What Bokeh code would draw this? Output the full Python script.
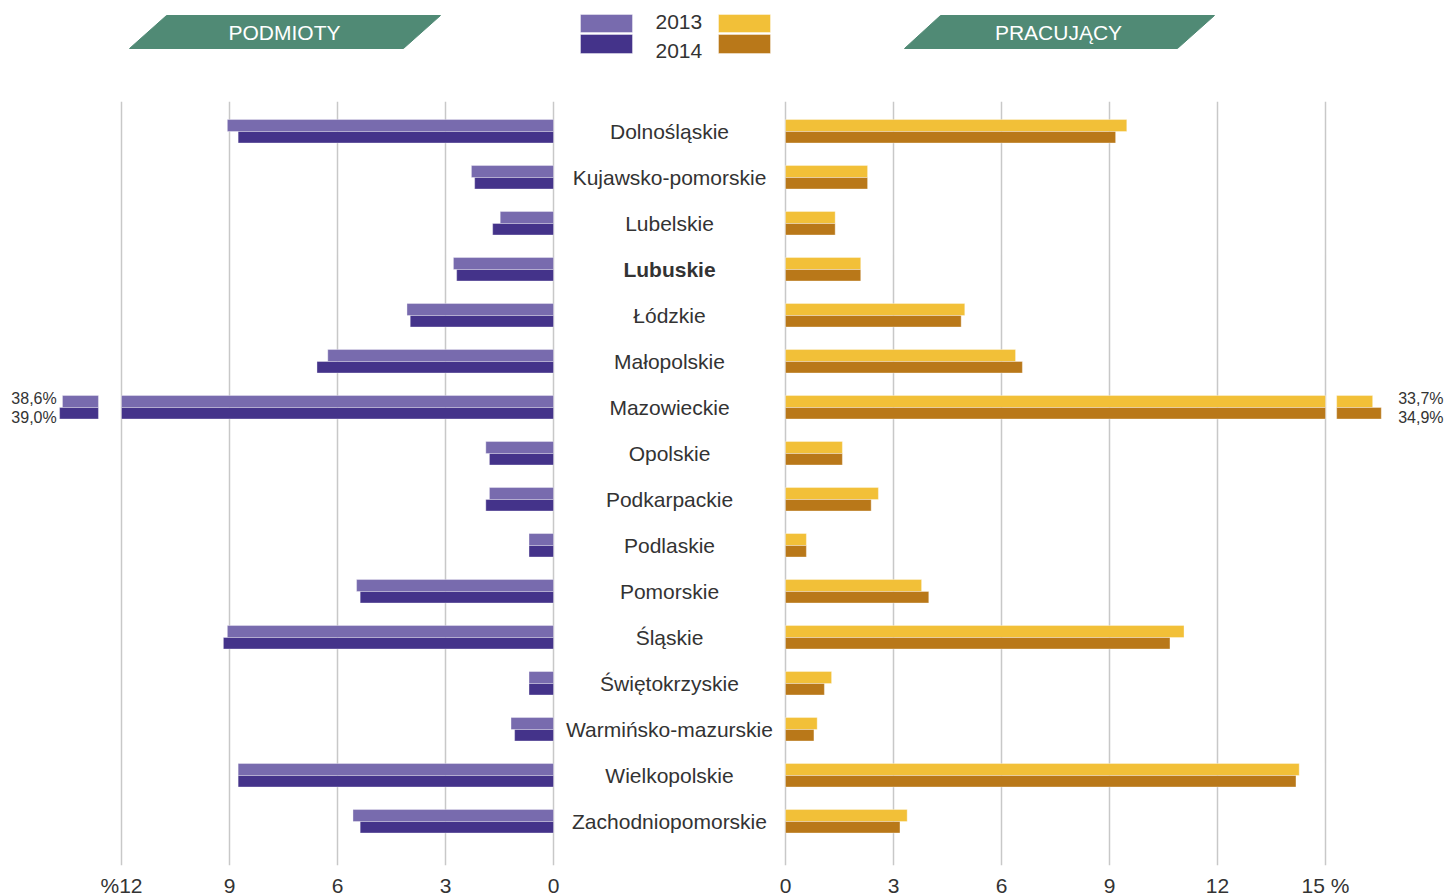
from bokeh.plotting import figure
from bokeh.layouts import column
from bokeh.models import Range1d, LinearAxis, FixedTicker, CustomJSTickFormatter, ColumnDataSource, Grid
from bokeh.core.properties import value
from bokeh.embed import file_html
from bokeh.resources import INLINE

# ---------------- data ----------------
regions = ["Dolnośląskie", "Kujawsko-pomorskie", "Lubelskie", "Lubuskie", "Łódzkie",
           "Małopolskie", "Mazowieckie", "Opolskie", "Podkarpackie", "Podlaskie",
           "Pomorskie", "Śląskie", "Świętokrzyskie", "Warmińsko-mazurskie",
           "Wielkopolskie", "Zachodniopomorskie"]
highlighted = "Lubuskie"

podmioty_2013 = [9.06, 2.28, 1.48, 2.78, 4.07, 6.27, 38.6, 1.88, 1.78, 0.68,
                 5.47, 9.06, 0.68, 1.18, 8.76, 5.57]
podmioty_2014 = [8.76, 2.19, 1.69, 2.69, 3.98, 6.57, 39.0, 1.78, 1.88, 0.68,
                 5.37, 9.17, 0.68, 1.08, 8.76, 5.37]
pracujacy_2013 = [9.48, 2.28, 1.38, 2.09, 4.98, 6.39, 33.7, 1.58, 2.58, 0.58,
                  3.78, 11.07, 1.28, 0.88, 14.27, 3.38]
pracujacy_2014 = [9.17, 2.28, 1.38, 2.09, 4.88, 6.58, 34.9, 1.58, 2.38, 0.58,
                  3.98, 10.68, 1.08, 0.79, 14.18, 3.18]

left_ticks = [0, 3, 6, 9, 12]
left_tick_labels = ["0", "3", "6", "9", "%12"]
right_ticks = [0, 3, 6, 9, 12, 15]
right_tick_labels = ["0", "3", "6", "9", "12", "15 %"]

years = ["2013", "2014"]
left_title = "PODMIOTY"
right_title = "PRACUJĄCY"

# ---------------- style ----------------
C13_L, C14_L = "#786bae", "#44338a"
C13_R, C14_R = "#f2c038", "#b97819"
GREEN = "#508a75"
TXT = "#333333"
GRID = "#c8c8c8"
FONT = value("Liberation Sans")

PX = 36.0               # pixels per unit
W = 1446
LEFT_ZERO_PX = 553
RIGHT_ZERO_PX = 785
S = -RIGHT_ZERO_PX / PX
E = S + W / PX
OFF = (RIGHT_ZERO_PX - LEFT_ZERO_PX) / PX
S_LEFT, E_LEFT = -S - OFF, -E - OFF

HH = 101                # header height
FH = 764                # plot frame height
ROW = 46.0
Y_TOP = -30 / ROW
Y_BOT = (FH - 30) / ROW

LMAX, RMAX = max(left_ticks), max(right_ticks)
GAP_L, GAP_R = 0.64, 0.31

# ---------------- main figure ----------------
p = figure(frame_width=W, frame_height=FH, x_range=Range1d(S, E),
           y_range=Range1d(Y_BOT, Y_TOP), x_axis_location=None, y_axis_location=None,
           toolbar_location=None, output_backend="svg", min_border=0,
           outline_line_color=None)
p.extra_x_ranges = {"left": Range1d(S_LEFT, E_LEFT)}
p.grid.visible = False

tick_pos = [-OFF - t for t in left_ticks] + [float(t) for t in right_ticks]
tick_labs = left_tick_labels + right_tick_labels

p.add_layout(Grid(dimension=0, ticker=FixedTicker(ticks=tick_pos),
                  grid_line_color=GRID, grid_line_width=1.5))

fmt = CustomJSTickFormatter(args=dict(pos=tick_pos, labs=tick_labs), code="""
let best = 0, bd = 1e9;
for (let i = 0; i < pos.length; i++) {
  const d = Math.abs(pos[i] - tick);
  if (d < bd) { bd = d; best = i; }
}
return labs[best];
""")
ax = LinearAxis(ticker=FixedTicker(ticks=tick_pos), formatter=fmt)
ax.axis_line_color = None
ax.major_tick_line_color = None
ax.minor_tick_line_color = None
ax.major_tick_out = 0
ax.major_tick_in = 0
ax.major_label_standoff = 8
ax.major_label_text_font = "Liberation Sans"
ax.major_label_text_font_size = "21px"
ax.major_label_text_color = TXT
p.add_layout(ax, "below")

idx = list(range(len(regions)))
y13 = [i - 0.13 for i in idx]
y14 = [i + 0.125 for i in idx]


def draw_side(vals, ys, h, color, vmax, range_name):
    main = [min(v, vmax) for v in vals]
    kw = dict(x_range_name=range_name) if range_name else {}
    p.hbar(y=ys, left=0, right=main, height=h, fill_color=color,
           line_color="white", line_alpha=0.35, line_width=1, **kw)


draw_side(podmioty_2013, y13, 0.26, C13_L, LMAX, "left")
draw_side(podmioty_2014, y14, 0.25, C14_L, LMAX, "left")
draw_side(pracujacy_2013, y13, 0.26, C13_R, RMAX, None)
draw_side(pracujacy_2014, y14, 0.25, C14_R, RMAX, None)


# broken-bar stubs for values beyond the axis
def stubs(v13, v14, vmax, gap, c13, c14, range_name, label_pad, align):
    kw = dict(x_range_name=range_name) if range_name else {}
    for i in idx:
        a, b = v13[i], v14[i]
        if a <= vmax and b <= vmax:
            continue
        lo = min(a, b)
        start = vmax + gap
        e13 = start + 1 + 0.2 * (a - lo)
        e14 = start + 1 + 0.2 * (b - lo)
        p.hbar(y=[y13[i]], left=[start], right=[e13], height=0.26, fill_color=c13,
               line_color="white", line_alpha=0.35, line_width=1, **kw)
        p.hbar(y=[y14[i]], left=[start], right=[e14], height=0.25, fill_color=c14,
               line_color="white", line_alpha=0.35, line_width=1, **kw)
        lx = max(e13, e14) + label_pad
        labs = [f"{a:.1f}".replace(".", ",") + "%", f"{b:.1f}".replace(".", ",") + "%"]
        p.text(x=[lx, lx], y=[i - 0.2, i + 0.22], text=labs, text_align=align,
               text_baseline="middle", text_font=FONT, text_font_size="16px",
               text_color=TXT, **kw)


stubs(podmioty_2013, podmioty_2014, LMAX, GAP_L, C13_L, C14_L, "left", 0.08, "right")
stubs(pracujacy_2013, pracujacy_2014, RMAX, GAP_R, C13_R, C14_R, None, 0.47, "left")

src = ColumnDataSource(dict(
    x=[-OFF / 2] * len(regions), y=idx, t=regions,
    fs=["bold" if r == highlighted else "normal" for r in regions]))
p.text(x="x", y="y", text="t", source=src, text_align="center", text_baseline="middle",
       text_font=FONT, text_font_size="21px", text_font_style="fs", text_color=TXT)

# ---------------- header figure ----------------
h = figure(frame_width=W, frame_height=HH, x_range=Range1d(0, W),
           y_range=Range1d(HH, 0), x_axis_location=None, y_axis_location=None,
           toolbar_location=None, output_backend="svg", min_border=0,
           outline_line_color=None)
h.grid.visible = False

h.patch([166, 440, 403, 129], [15, 15, 48, 48], fill_color=GREEN, line_color=GREEN)
h.patch([940, 1214, 1177, 904], [15, 15, 48, 48], fill_color=GREEN, line_color=GREEN)
h.text(x=[284, 1058], y=[32, 32], text=[left_title, right_title], text_align="center",
       text_baseline="middle", text_font=FONT, text_font_size="21px", text_color="white")

h.quad(left=[580, 580, 718, 718], right=[632, 632, 770, 770],
       top=[14, 34, 14, 34], bottom=[32, 53, 32, 53],
       fill_color=[C13_L, C14_L, C13_R, C14_R], line_color="white", line_alpha=0.4)
h.text(x=[655, 655], y=[21, 50], text=years, text_align="left", text_baseline="middle",
       text_font=FONT, text_font_size="21px", text_color=TXT)

layout = column(h, p, spacing=0)
open("out.html", "w").write(file_html(layout, INLINE))
